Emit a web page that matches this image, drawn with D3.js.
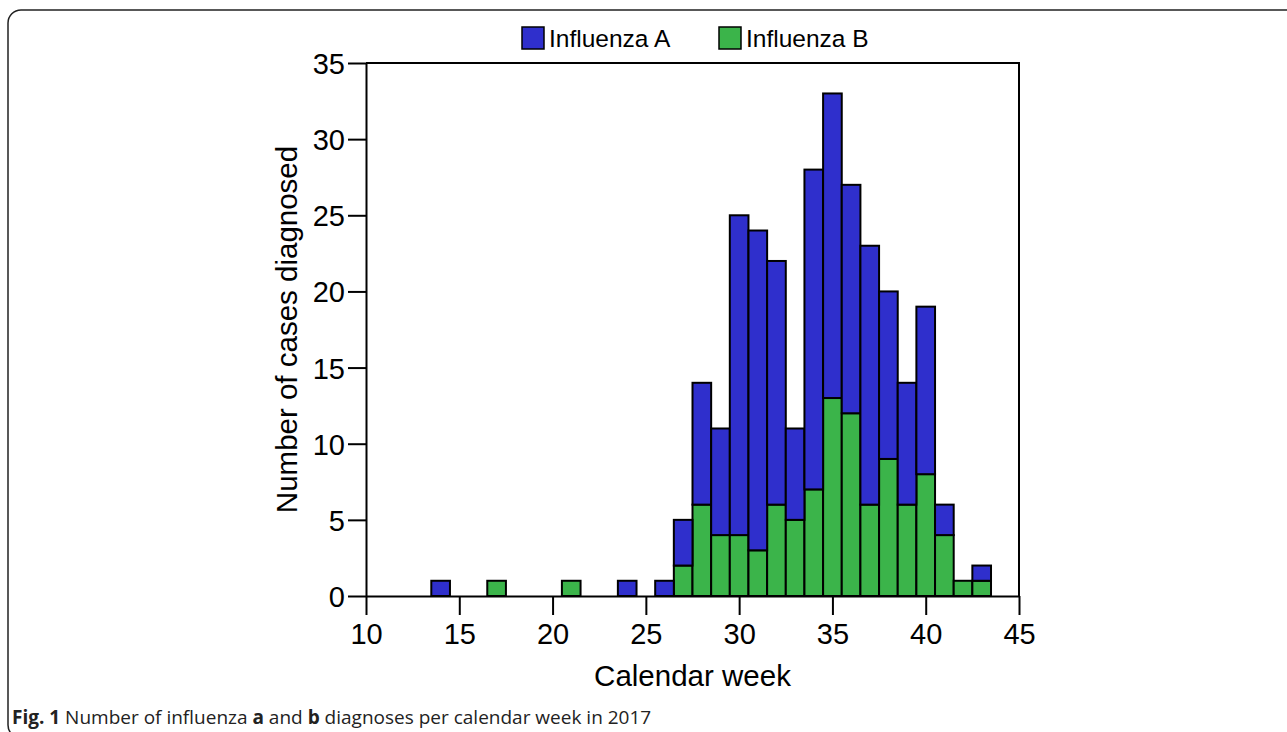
<!DOCTYPE html>
<html>
<head>
<meta charset="utf-8">
<script src="https://cdn.jsdelivr.net/npm/d3@7"></script>
<style>
  body { margin: 0; background: #fff; }
  svg { display: block; }
  .tick text { font-family: "Liberation Sans", Arial, sans-serif; }
</style>
</head>
<body>
<script>
const weeks    = [14, 17, 21, 24, 26, 27, 28, 29, 30, 31, 32, 33, 34, 35, 36, 37, 38, 39, 40, 41, 42, 43];
const fluB     = [0,  1,  1,  0,  0,  2,  6,  4,  4,  3,  6,  5,  7, 13, 12,  6,  9,  6,  8,  4,  1,  1];
const fluA     = [1,  0,  0,  1,  1,  3,  8,  7, 21, 21, 16,  6, 21, 20, 15, 17, 11,  8, 11,  2,  0,  1];
const seriesNames = ["Influenza A", "Influenza B"];
const colors = {"Influenza A": "#2f2fcc", "Influenza B": "#3bb44a"};
const xTicks = [10, 15, 20, 25, 30, 35, 40, 45];
const yTicks = [0, 5, 10, 15, 20, 25, 30, 35];

const W = 1287, H = 732;
const margin = {top: 63, right: 268, bottom: 136, left: 366};

const svg = d3.select("body").append("svg").attr("width", W).attr("height", H);

// figure frame (runs off the right edge)
svg.append("rect")
  .attr("x", 8).attr("y", 10)
  .attr("width", 1400).attr("height", 728)
  .attr("rx", 13)
  .attr("fill", "none").attr("stroke", "#222").attr("stroke-width", 1.5);

const x = d3.scaleLinear().domain([10, 45]).range([margin.left, W - margin.right]);
const y = d3.scaleLinear().domain([0, 35]).range([H - margin.bottom, margin.top]);

// stacked data: B at bottom, A on top
const rows = weeks.map((w, i) => ({week: w, "Influenza B": fluB[i], "Influenza A": fluA[i]}));
const stack = d3.stack().keys(["Influenza B", "Influenza A"]);
const layers = stack(rows);

const g = svg.append("g");
layers.forEach(layer => {
  g.selectAll(null)
    .data(layer.filter(d => d[1] > d[0]))
    .enter().append("rect")
    .attr("x", d => x(d.data.week - 0.5))
    .attr("width", d => x(d.data.week + 0.5) - x(d.data.week - 0.5))
    .attr("y", d => y(d[1]))
    .attr("height", d => y(d[0]) - y(d[1]))
    .attr("fill", colors[layer.key])
    .attr("stroke", "#000")
    .attr("stroke-width", 2);
});

// box
svg.append("path")
  .attr("d", "M" + x(10) + "," + y(35) + "H" + x(45) + "V" + y(0))
  .attr("fill", "none").attr("stroke", "#000").attr("stroke-width", 2);

const xAxis = svg.append("g")
  .attr("transform", "translate(0," + y(0) + ")")
  .call(d3.axisBottom(x).tickValues(xTicks).tickSize(19).tickPadding(8).tickSizeOuter(0));
const yAxis = svg.append("g")
  .attr("transform", "translate(" + x(10) + ",0)")
  .call(d3.axisLeft(y).tickValues(yTicks).tickSize(18).tickPadding(3).tickSizeOuter(0));

[xAxis, yAxis].forEach(a => {
  a.select(".domain").attr("stroke", "#000").attr("stroke-width", 2);
  a.selectAll(".tick line").attr("stroke", "#000").attr("stroke-width", 2);
  a.selectAll(".tick text").attr("fill", "#000").style("font-size", "29px");
});
yAxis.selectAll(".tick text").attr("dy", "0.36em");

// axis titles
svg.append("text")
  .attr("x", (x(10) + x(45)) / 2).attr("y", 686)
  .attr("text-anchor", "middle")
  .style("font-family", "Liberation Sans, Arial, sans-serif")
  .style("font-size", "29.5px")
  .text("Calendar week");

svg.append("text")
  .attr("transform", "translate(297," + (y(0) + y(35)) / 2 + ") rotate(-90)")
  .attr("text-anchor", "middle")
  .style("font-family", "Liberation Sans, Arial, sans-serif")
  .style("font-size", "29.5px")
  .text("Number of cases diagnosed");

// legend
const legendX = [522, 719];
seriesNames.forEach((name, i) => {
  const lg = svg.append("g").attr("transform", "translate(" + legendX[i] + ",27)");
  lg.append("rect").attr("width", 22).attr("height", 22)
    .attr("fill", colors[name]).attr("stroke", "#000").attr("stroke-width", 1.5);
  lg.append("text").attr("x", 27).attr("y", 20)
    .style("font-family", "Liberation Sans, Arial, sans-serif")
    .style("font-size", "24.5px")
    .text(name);
});

// caption
const cap = svg.append("text")
  .attr("x", 12).attr("y", 724)
  .style("font-family", "Open Sans, sans-serif")
  .style("font-size", "19px")
  .attr("fill", "#222");
cap.append("tspan").attr("font-weight", "bold").text("Fig. 1");
cap.append("tspan").text(" Number of influenza ");
cap.append("tspan").attr("font-weight", "bold").text("a");
cap.append("tspan").text(" and ");
cap.append("tspan").attr("font-weight", "bold").text("b");
cap.append("tspan").text(" diagnoses per calendar week in 2017");
</script>
</body>
</html>
